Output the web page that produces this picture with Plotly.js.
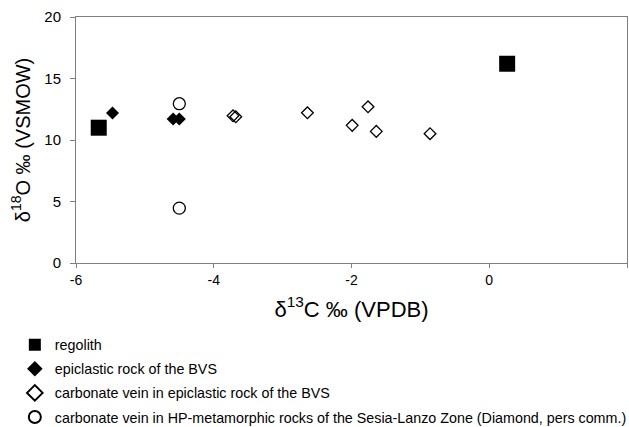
<!DOCTYPE html>
<html>
<head>
<meta charset="utf-8">
<script src="https://cdn.plot.ly/plotly-3.0.1.min.js"></script>
<style>html,body{margin:0;padding:0;background:#fff;}#chart{width:629px;height:427px;}</style>
</head>
<body>
<div id="chart"></div>
<script>
// Series names
const seriesNames = [
  "regolith",
  "epiclastic rock of the BVS",
  "carbonate vein in epiclastic rock of the BVS",
  "carbonate vein in HP-metamorphic rocks of the Sesia-Lanzo Zone (Diamond, pers comm.)"
];
// regolith
const regolithC = [-5.67, 0.26];
const regolithO = [11.0, 16.2];
// epiclastic rock of the BVS
const epiC = [-5.47, -4.59, -4.50];
const epiO = [12.2, 11.7, 11.7];
// carbonate vein in epiclastic rock of the BVS
const veinC = [-3.72, -3.68, -2.64, -1.99, -1.76, -1.64, -0.86];
const veinO = [11.97, 11.89, 12.21, 11.19, 12.70, 10.70, 10.51];
// carbonate vein in HP-metamorphic rocks (Diamond, pers comm.)
const hpC = [-4.50, -4.50];
const hpO = [12.95, 4.46];
// ticks
const xTicks = [-6, -4, -2, 0, 2];
const yTicks = [0, 5, 10, 15, 20];

const font = "Liberation Sans, Arial, Helvetica, sans-serif";
const traces = [
  {x: regolithC, y: regolithO, name: seriesNames[0], mode: "markers", type: "scatter", legendgroup: "a",
   marker: {symbol: "square", size: 16, color: "#000"}},
  {x: epiC, y: epiO, name: seriesNames[1], mode: "markers", type: "scatter", legendgroup: "b",
   marker: {symbol: "diamond", size: 10, color: "#000"}},
  {x: veinC, y: veinO, name: seriesNames[2], mode: "markers", type: "scatter", legendgroup: "c",
   marker: {symbol: "diamond-open", size: 9, color: "#000", line: {width: 1.3, color: "#000"}}},
  {x: hpC, y: hpO, name: seriesNames[3], mode: "markers", type: "scatter", legendgroup: "d",
   marker: {symbol: "circle-open", size: 12, color: "#000", line: {width: 1.3, color: "#000"}}}
];

const layout = {
  width: 629, height: 427,
  margin: {l: 76, r: 2, t: 17, b: 164, autoexpand: false},
  paper_bgcolor: "#fff", plot_bgcolor: "#fff",
  font: {family: font, color: "#000", size: 14},
  showlegend: true,
  legend: {
    x: -0.111, xanchor: "left", y: -0.268, yanchor: "top",
    orientation: "v", tracegroupgap: 2.5,
    font: {family: font, size: 14.3, color: "#000"},
    itemsizing: "constant", bgcolor: "rgba(0,0,0,0)"
  },
  xaxis: {
    range: [-6, 2], tickvals: xTicks, ticktext: xTicks.map(String),
    showgrid: false, zeroline: false, showline: true, linecolor: "#808080", linewidth: 1,
    mirror: true, ticks: "outside", ticklen: 4, tickcolor: "#808080",
    tickfont: {family: font, size: 14, color: "#000"},
    title: {text: "δ<sup>13</sup>C ‰ (VPDB)", font: {family: font, size: 22, color: "#000"}, standoff: 14}
  },
  yaxis: {
    range: [0, 20], tickvals: yTicks, ticktext: yTicks.map(String),
    showgrid: false, zeroline: false, showline: true, linecolor: "#808080", linewidth: 1,
    mirror: true, ticks: "outside", ticklen: 5, tickcolor: "#808080", ticklabelstandoff: 6,
    tickfont: {family: font, size: 15, color: "#000"},
    title: {text: "δ<sup>18</sup>O ‰ (VSMOW)", font: {family: font, size: 20, color: "#000"}, standoff: 8}
  }
};

Plotly.newPlot("chart", traces, layout, {displayModeBar: false, staticPlot: true});
</script>
</body>
</html>
